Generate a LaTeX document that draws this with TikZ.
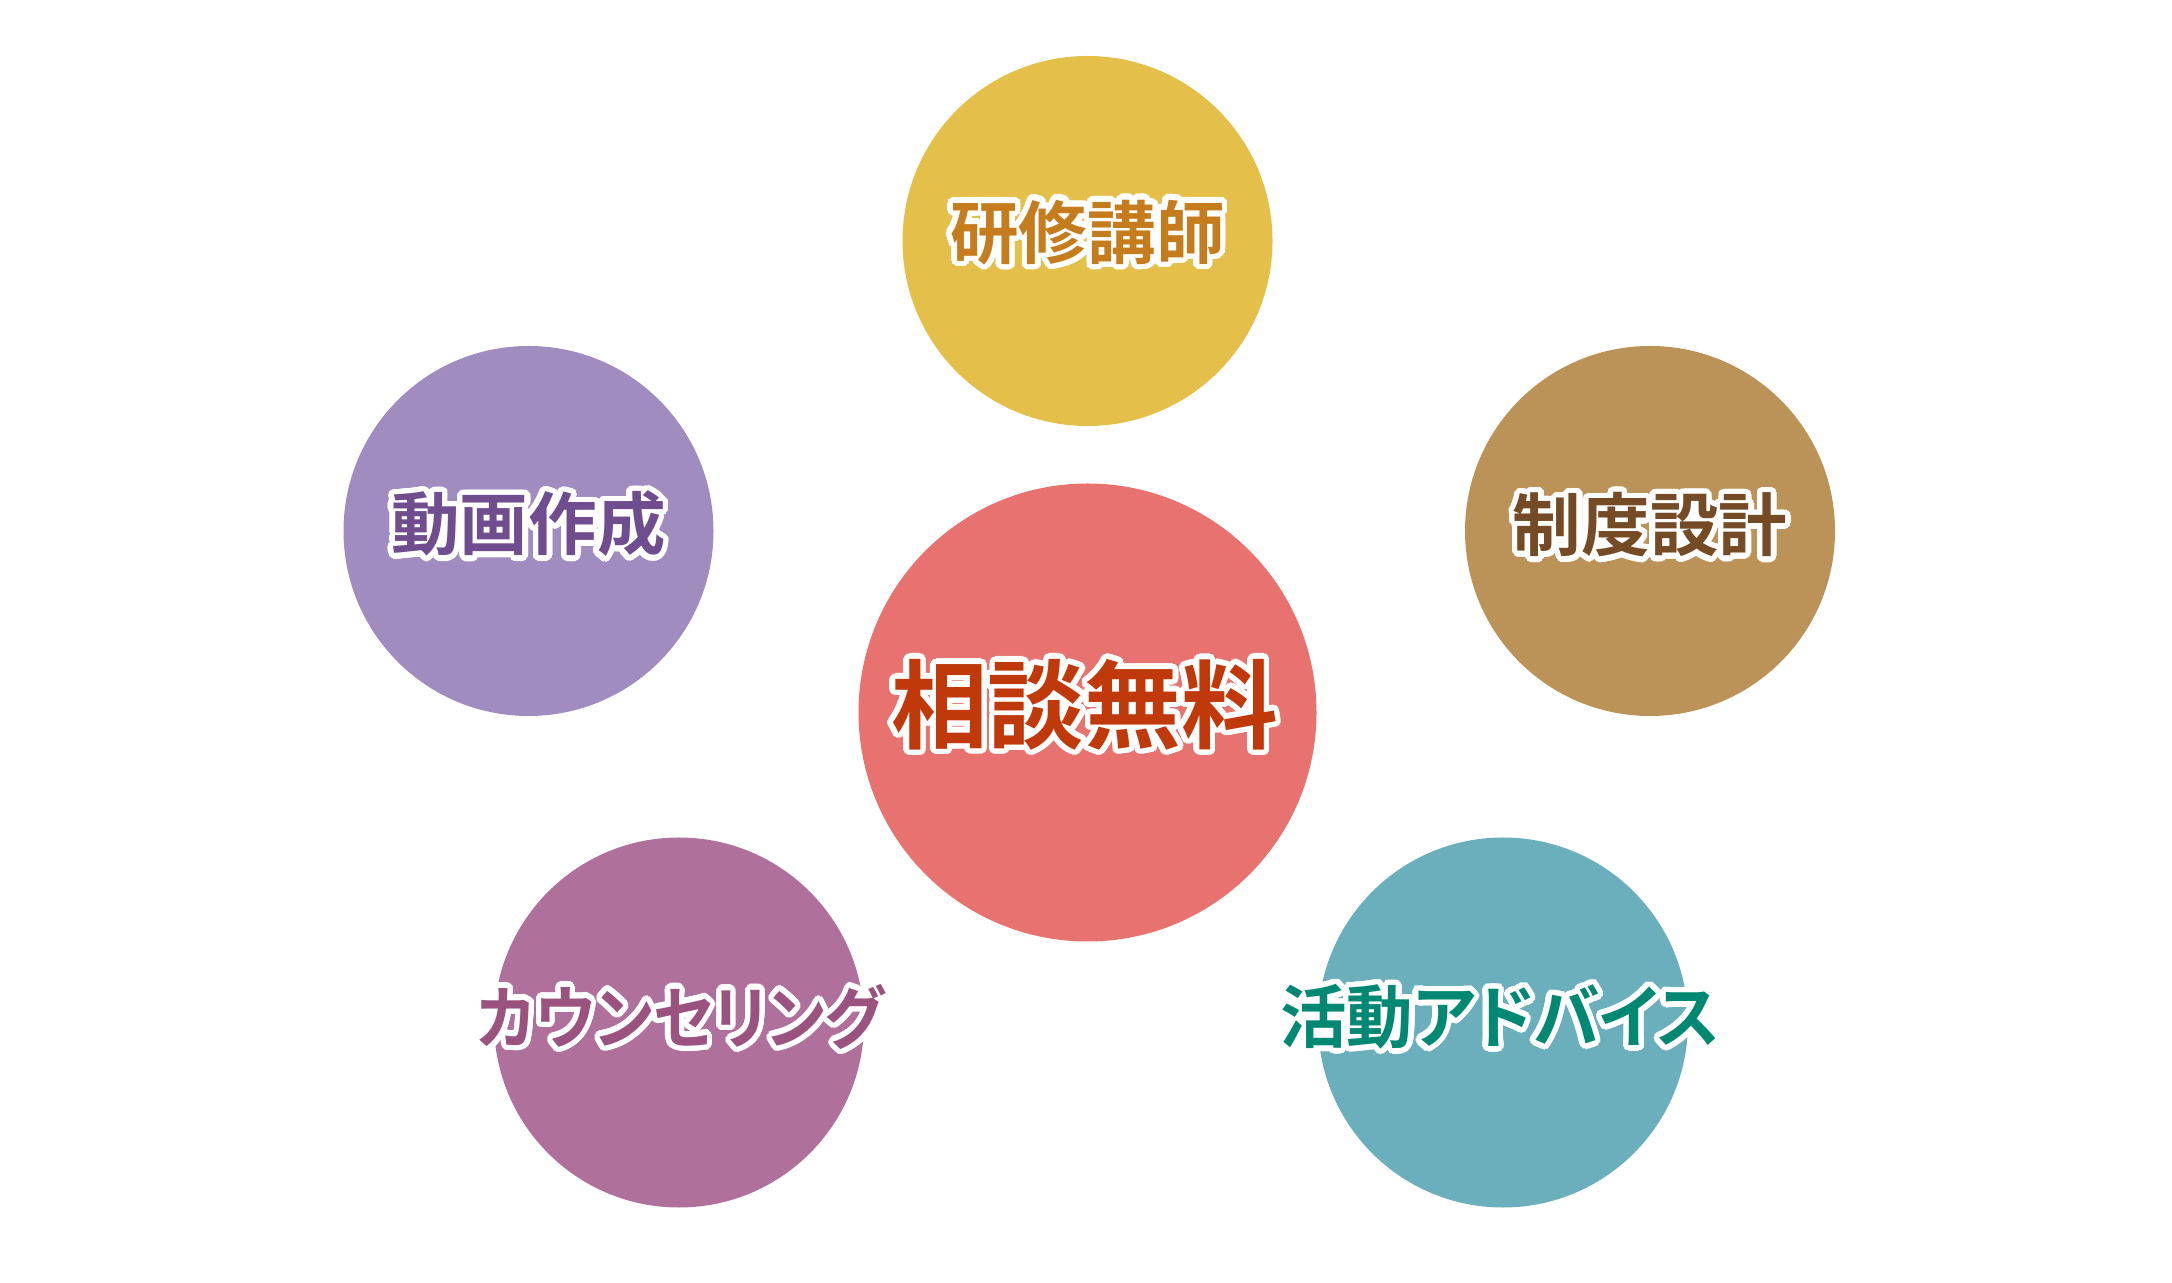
\documentclass[tikz,border=0pt]{standalone}
\usepackage{fontspec}
\newfontfamily\jpfont[RawFeature=+palt]{Noto Sans CJK JP Bold}
\usepackage{contour}
\contourlength{0.055cm}
\contournumber{32}
\usetikzlibrary{positioning}
\definecolor{redball}{HTML}{E7726F}
\definecolor{yellowball}{HTML}{E4BF4A}
\definecolor{purpleball}{HTML}{A18CC0}
\definecolor{brownball}{HTML}{BB9257}
\definecolor{pinkball}{HTML}{B0709C}
\definecolor{tealball}{HTML}{6BAFBC}
\definecolor{redtext}{HTML}{C0390B}
\definecolor{yellowtext}{HTML}{C47C1C}
\definecolor{purpletext}{HTML}{704D8E}
\definecolor{browntext}{HTML}{744B24}
\definecolor{pinktext}{HTML}{9A527F}
\definecolor{tealtext}{HTML}{008872}
\tikzset{
  ball/.style={circle, minimum size=3.70cm, inner sep=0pt},
  bigball/.style={circle, minimum size=4.58cm, inner sep=0pt},
  word/.style={inner sep=0pt, font=\jpfont\fontsize{19.5}{20}\selectfont},
  bigword/.style={inner sep=0pt, font=\jpfont\fontsize{27.5}{28}\selectfont}
}

\begin{document}
\begin{tikzpicture}
      \useasboundingbox (0,0) rectangle (21.72,12.82);
      \node[bigball, fill=redball] (n0) at (10.875,5.695) {};
      \node[ball, above of=n0, node distance=4.715cm, fill=yellowball] (n1) {};
      \coordinate[above of=n0, node distance=1.815cm] (aux1);
      \coordinate[below of=n0, node distance=3.10cm] (aux2);
      \node[ball, left of=aux1, node distance=5.59cm, fill=purpleball] (n2) {};
      \node[ball, right of=aux1, node distance=5.625cm, fill=brownball] (n3) {};
      \node[ball, left of=aux2, node distance=4.085cm, fill=pinkball] (n4) {};
      \node[ball, right of=aux2, node distance=4.155cm, fill=tealball] (n5) {};
      % labels
      \node[bigword, text=redtext, xshift=-0.03cm, yshift=0.05cm] (t0) at (n0) {\contour{white}{相談無料}};
      \node[word, text=yellowtext, yshift=0.06cm] (t1) at (n1) {\contour{white}{研修講師}};
      \node[word, text=purpletext, yshift=0.045cm] (t2) at (n2) {\contour{white}{動画作成}};
      \node[word, text=browntext, yshift=0.035cm] (t3) at (n3) {\contour{white}{制度設計}};
      \node[word, text=pinktext, xshift=0.02cm, yshift=0.03cm] (t4) at (n4) {\scalebox{0.92}[1]{\contour{white}{カウンセリング}}};
      \node[word, text=tealtext, xshift=-0.03cm, yshift=0.03cm] (t5) at (n5) {\scalebox{0.97}[1]{\contour{white}{活動アドバイス}}};
    \end{tikzpicture}
\end{document}
